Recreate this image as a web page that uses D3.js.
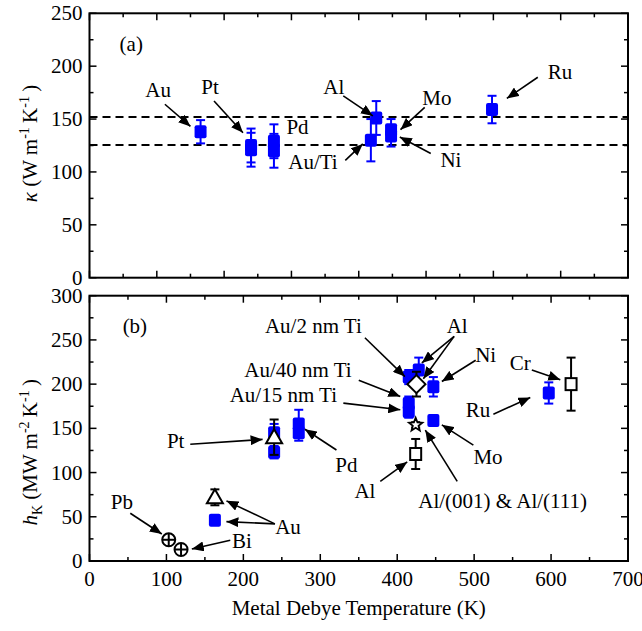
<!DOCTYPE html>
<html>
<head>
<meta charset="utf-8">
<script src="https://cdn.jsdelivr.net/npm/d3@7"></script>
<style>
  html, body { margin: 0; padding: 0; background: #fff; }
</style>
</head>
<body>
<div id="chart"></div>
<script>
/* ── Panel (a): thermal conductivity ─────────────────────────────────── */
const kappaNames = ['Au', 'Pt', 'Pt', 'Pd', 'Pd', 'Au/Ti', 'Al', 'Mo', 'Ni', 'Ru'];
const kappaDebye = [165, 240, 240, 274, 274, 418, 426, 448, 448, 598];
const kappaVal   = [138, 125, 121, 129, 120, 130, 151, 140, 134, 159];
const kappaErr   = [11, 16, 16, 16, 16, 20, 16, 10, 10, 13];
const kappaLines = [152, 125.5];

/* ── Panel (b): Kapitza conductance, this work (blue squares) ────────── */
const hBlueNames = ['Au', 'Pt', 'Pt', 'Pd', 'Pd', 'Au/2 nm Ti', 'Al', 'Au/40 nm Ti', 'Au/15 nm Ti', 'Ni', 'Mo', 'Ru'];
const hBlueDebye = [163, 240, 240, 272, 272, 415, 428, 415, 415, 447, 447, 597];
const hBlueVal   = [46, 145, 123, 155, 145, 208, 216, 178, 169, 197, 159, 190];
const hBlueErr   = [3, 10, 7, 16, 9, 8, 14, 8, 7, 11, 3, 12];

/* ── Panel (b): literature values (open symbols) ─────────────────────── */
const hOpenNames  = ['Pb', 'Bi', 'Au', 'Pt', 'Al', 'Al', 'Al/(001) & Al/(111)', 'Cr'];
const hOpenSymbol = ['circlePlus', 'circlePlus', 'triangle', 'triangle', 'diamond', 'square', 'star', 'square'];
const hOpenDebye  = [103, 119, 163, 240, 425, 424, 424, 626];
const hOpenVal    = [24, 13, 72, 140, 200, 121, 154, 200];
const hOpenErr    = [0, 0, 9, 20, 14, 17, 3, 30];

/* ── Axis ticks ──────────────────────────────────────────────────────── */
const xTickLabels = [0, 100, 200, 300, 400, 500, 600, 700];
const yTicksA = [0, 50, 100, 150, 200, 250];
const yTicksB = [0, 50, 100, 150, 200, 250, 300];

/* ── Annotations (data units): text pos + arrows [x0,y0,x1,y1] ──────── */
const annotA = [
  { t: '(a)',   x: 62,  y: 214 },
  { t: 'Au',    x: 102, y: 171, arrows: [[112, 164, 150, 143]] },
  { t: 'Pt',    x: 179, y: 174, arrows: [[185, 167, 228, 137]] },
  { t: 'Pd',    x: 309, y: 135.5 },
  { t: 'Au/Ti', x: 332, y: 102.5, arrows: [[380, 111, 406, 126.5]] },
  { t: 'Al',    x: 363, y: 174, arrows: [[377, 172, 421, 153]] },
  { t: 'Mo',    x: 516, y: 163, arrows: [[498, 161, 462, 140]] },
  { t: 'Ni',    x: 537, y: 104.5, arrows: [[507, 117.5, 461, 133]] },
  { t: 'Ru',    x: 699, y: 188, arrows: [[666, 189.5, 620, 169.5]] },
];
const annotB = [
  { t: '(b)',         x: 59,  y: 257.5 },
  { t: 'Au/2 nm Ti',  x: 291, y: 258, arrows: [[358, 252.5, 410, 208.5]] },
  { t: 'Au/40 nm Ti', x: 271, y: 208, arrows: [[350, 204.5, 404, 186]] },
  { t: 'Au/15 nm Ti', x: 252, y: 180, arrows: [[330, 178.5, 404, 171]] },
  { t: 'Al',          x: 478, y: 257.5, arrows: [[474, 254, 432, 224], [474, 254, 434, 206]] },
  { t: 'Ni',          x: 515, y: 225.5, arrows: [[502, 227, 458, 203]] },
  { t: 'Cr',          x: 560, y: 216, arrows: [[575, 216, 612, 205]] },
  { t: 'Ru',          x: 505, y: 163, arrows: [[525, 166, 573, 185]] },
  { t: 'Mo',          x: 518, y: 110, arrows: [[499, 131, 458, 154]] },
  { t: 'Al/(001) & Al/(111)', x: 537, y: 59.5, arrows: [[478, 90, 436.5, 148]] },
  { t: 'Al',          x: 358, y: 71, arrows: [[378, 90, 413, 112]] },
  { t: 'Pd',          x: 334, y: 101, arrows: [[321, 125.5, 280, 149]] },
  { t: 'Pt',          x: 112, y: 127.5, arrows: [[131, 132, 225, 137.5]] },
  { t: 'Au',          x: 258, y: 31, arrows: [[241, 42, 178, 68], [241, 42, 178, 44.5]] },
  { t: 'Pb',          x: 42,  y: 58.5, arrows: [[53, 54, 94, 30.5]] },
  { t: 'Bi',          x: 198, y: 14.5, arrows: [[183, 23.5, 133, 13.5]] },
];

/* ── Layout ──────────────────────────────────────────────────────────── */
const W = 642, H = 631;
const X0 = 89.5, X1 = 628;
const FONT = 21;
const FAMILY = '"Liberation Serif", "Times New Roman", Times, "DejaVu Serif", serif';
const BLUE = '#0000ff';

const svg = d3.select('#chart').append('svg')
  .attr('width', W).attr('height', H)
  .attr('viewBox', `0 0 ${W} ${H}`)
  .style('font-family', FAMILY);

svg.append('defs').append('marker')
  .attr('id', 'arrow')
  .attr('markerUnits', 'userSpaceOnUse')
  .attr('viewBox', '0 0 12 10')
  .attr('refX', 12).attr('refY', 5)
  .attr('markerWidth', 12).attr('markerHeight', 10)
  .attr('orient', 'auto')
  .append('path').attr('d', 'M0,0 L12,5 L0,10 Z').attr('fill', '#000');

/* panel scales */
const xA = d3.scaleLinear().domain([0, 800]).range([X0, X1]);
const yA = d3.scaleLinear().domain([0, 250]).range([277.7, 13.3]);
const xB = d3.scaleLinear().domain([0, 700]).range([X0, X1]);
const yB = d3.scaleLinear().domain([0, 300]).range([561, 295.7]);

function drawFrame(x, y, xMajor, xMinor, yMajor, yMinor, yLabels) {
  const g = svg.append('g');
  const [xl, xr] = x.range();
  const [yb, yt] = y.range();
  const tick = (vals, len, horiz) => vals.forEach(v => {
    if (horiz) {
      const px = x(v);
      g.append('line').attr('x1', px).attr('x2', px).attr('y1', yb).attr('y2', yb - len);
      g.append('line').attr('x1', px).attr('x2', px).attr('y1', yt).attr('y2', yt + len);
    } else {
      const py = y(v);
      g.append('line').attr('x1', xl).attr('x2', xl + len).attr('y1', py).attr('y2', py);
      g.append('line').attr('x1', xr).attr('x2', xr - len).attr('y1', py).attr('y2', py);
    }
  });
  tick(xMajor, 7, true);
  tick(xMinor, 4, true);
  tick(yMajor, 7, false);
  tick(yMinor, 4, false);
  g.selectAll('line').attr('stroke', '#000').attr('stroke-width', 1.5);

  g.append('rect')
    .attr('x', xl).attr('y', yt).attr('width', xr - xl).attr('height', yb - yt)
    .attr('fill', 'none').attr('stroke', '#000').attr('stroke-width', 2);

  yLabels.forEach(v => {
    g.append('text')
      .attr('x', xl - 7).attr('y', y(v) + 7)
      .attr('text-anchor', 'end')
      .attr('font-size', FONT)
      .text(v);
  });
  return g;
}

/* ── Panel (a) frame ─────────────────────────────────────────────────── */
drawFrame(xA, yA,
  d3.range(0, 801, 100), d3.range(50, 800, 100),
  yTicksA, d3.range(25, 250, 50), yTicksA);

/* ── Panel (b) frame ─────────────────────────────────────────────────── */
const gB = drawFrame(xB, yB,
  xTickLabels, d3.range(50, 700, 100),
  yTicksB, d3.range(25, 300, 50), yTicksB);

xTickLabels.forEach(v => {
  gB.append('text')
    .attr('x', xB(v)).attr('y', 586)
    .attr('text-anchor', 'middle')
    .attr('font-size', FONT)
    .text(v);
});

svg.append('text')
  .attr('x', xB(350)).attr('y', 615)
  .attr('text-anchor', 'middle')
  .attr('font-size', FONT)
  .text('Metal Debye Temperature (K)');

/* ── Y axis titles ───────────────────────────────────────────────────── */
function sup(t, s) {
  t.append('tspan').attr('dy', -8).attr('font-size', 14).text(s);
  t.append('tspan').attr('dy', 8).text('\u2009');
}
const tA = svg.append('text')
  .attr('transform', `translate(37,${(yA(0) + yA(250)) / 2 - 2}) rotate(-90)`)
  .attr('text-anchor', 'middle')
  .attr('font-size', FONT);
tA.append('tspan').attr('font-style', 'italic').text('\u03ba');
tA.append('tspan').text(' (W m');
sup(tA, '-1');
tA.append('tspan').text('K');
sup(tA, '-1');
tA.append('tspan').text(')');

const tB = svg.append('text')
  .attr('transform', `translate(37,${(yB(0) + yB(300)) / 2 + 24}) rotate(-90)`)
  .attr('text-anchor', 'middle')
  .attr('font-size', FONT);
tB.append('tspan').attr('font-style', 'italic').text('h');
tB.append('tspan').attr('dy', 5).attr('font-size', 14).text('K');
tB.append('tspan').attr('dy', -5).text(' (MW m');
sup(tB, '-2');
tB.append('tspan').text('K');
sup(tB, '-1');
tB.append('tspan').text(')');

/* ── Dashed reference lines (a) ──────────────────────────────────────── */
kappaLines.forEach(v => {
  svg.append('line')
    .attr('x1', X0).attr('x2', X1)
    .attr('y1', yA(v)).attr('y2', yA(v))
    .attr('stroke', '#000').attr('stroke-width', 2)
    .attr('stroke-dasharray', '8,5');
});

/* ── Error bars + markers ────────────────────────────────────────────── */
function errBar(g, px, y, v, e, color) {
  if (!e) return;
  const top = y(v + e), bot = y(v - e);
  g.append('line').attr('x1', px).attr('x2', px).attr('y1', top).attr('y2', bot);
  g.append('line').attr('x1', px - 4.5).attr('x2', px + 4.5).attr('y1', top).attr('y2', top);
  g.append('line').attr('x1', px - 4.5).attr('x2', px + 4.5).attr('y1', bot).attr('y2', bot);
  g.selectAll('line').attr('stroke', color).attr('stroke-width', 2);
}

function blueSquares(x, y, xs, vs, es) {
  const g = svg.append('g');
  xs.forEach((d, i) => errBar(g.append('g'), x(d), y, vs[i], es[i], BLUE));
  xs.forEach((d, i) => {
    g.append('rect')
      .attr('x', x(d) - 6).attr('y', y(vs[i]) - 6.5)
      .attr('width', 12).attr('height', 13).attr('rx', 2)
      .attr('fill', BLUE);
  });
}

blueSquares(xA, yA, kappaDebye, kappaVal, kappaErr);
blueSquares(xB, yB, hBlueDebye, hBlueVal, hBlueErr);

function starPath(r1, r2) {
  const pts = d3.range(10).map(i => {
    const a = -Math.PI / 2 + i * Math.PI / 5;
    const r = i % 2 ? r2 : r1;
    return [r * Math.cos(a), r * Math.sin(a)];
  });
  return 'M' + pts.map(p => p.join(',')).join('L') + 'Z';
}

const gOpen = svg.append('g');
hOpenDebye.forEach((d, i) => errBar(gOpen.append('g'), xB(d), yB, hOpenVal[i], hOpenErr[i], '#000'));
hOpenDebye.forEach((d, i) => {
  const g = gOpen.append('g')
    .attr('transform', `translate(${xB(d)},${yB(hOpenVal[i])})`)
    .attr('fill', '#fff').attr('stroke', '#000').attr('stroke-width', 2);
  const s = hOpenSymbol[i];
  if (s === 'square') {
    g.append('rect').attr('x', -5.5).attr('y', -6).attr('width', 11).attr('height', 12);
  } else if (s === 'triangle') {
    g.append('path').attr('d', 'M0,-8 L8,6 L-8,6 Z');
  } else if (s === 'diamond') {
    g.append('path').attr('d', 'M0,-9 L9,0 L0,9 L-9,0 Z');
  } else if (s === 'star') {
    g.append('path').attr('d', starPath(7, 3)).attr('stroke-width', 1.8);
  } else if (s === 'circlePlus') {
    g.append('circle').attr('r', 6.5);
    g.append('line').attr('x1', -6.5).attr('x2', 6.5);
    g.append('line').attr('y1', -6.5).attr('y2', 6.5);
  }
});

/* ── Annotations ─────────────────────────────────────────────────────── */
function annotate(list, x, y) {
  const g = svg.append('g');
  list.forEach(a => {
    g.append('text')
      .attr('x', x(a.x)).attr('y', y(a.y))
      .attr('text-anchor', 'middle')
      .attr('font-size', FONT)
      .text(a.t);
    (a.arrows || []).forEach(([x0, y0, x1, y1]) => {
      g.append('line')
        .attr('x1', x(x0)).attr('y1', y(y0))
        .attr('x2', x(x1)).attr('y2', y(y1))
        .attr('stroke', '#000').attr('stroke-width', 1.6)
        .attr('marker-end', 'url(#arrow)');
    });
  });
}
annotate(annotA, xA, yA);
annotate(annotB, xB, yB);
</script>
</body>
</html>
